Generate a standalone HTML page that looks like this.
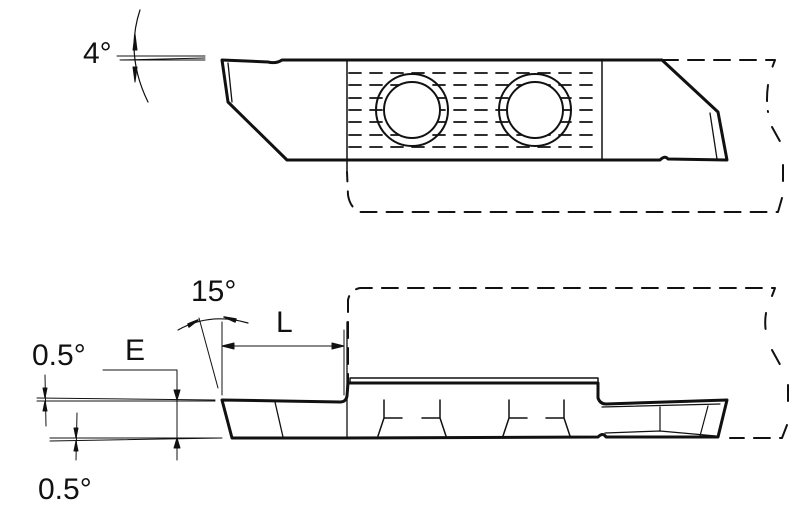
<!DOCTYPE html>
<html><head><meta charset="utf-8"><style>
html,body{margin:0;padding:0;background:#fff;width:800px;height:515px;overflow:hidden}
svg{display:block}
text{font-family:"Liberation Sans",sans-serif;fill:#111;stroke:none}
</style></head><body>
<svg width="800" height="515" viewBox="0 0 800 515" xmlns="http://www.w3.org/2000/svg">
<g fill="none" stroke="#111" stroke-linejoin="round" stroke-linecap="round">
<path d="M222,60 L268,62 Q276,64 282,60 L662,60 L718,112 L727,160 L668,159 Q665,155 660,160 L287,160 L228,102 Z" stroke-width="3"/>
<path d="M228,63 L232,102" stroke-width="1.3"/>
<path d="M710,113 L717,159" stroke-width="1.3"/>
<path d="M347,60 V172" stroke-width="1.5"/>
<path d="M602,60 V160" stroke-width="1.5"/>
<g stroke-width="1.8" stroke-dasharray="12,9">
<path d="M349,73 H600"/><path d="M349,85 H600"/><path d="M349,98 H600"/><path d="M349,110 H600"/><path d="M349,122 H600"/><path d="M349,135 H600"/><path d="M349,147 H600"/>
</g>
<circle cx="412" cy="110" r="36" stroke-width="2"/>
<circle cx="412" cy="110" r="28" stroke-width="2" fill="#fff"/>
<circle cx="535" cy="110" r="36" stroke-width="2"/>
<circle cx="535" cy="110" r="28" stroke-width="2" fill="#fff"/>
<g stroke-width="2" stroke-dasharray="16,10">
<path d="M662,60 H775 L772,68"/>
<path d="M768,85 Q766,100 768,112 M772,127 L782,145 M783,165 V185 M782,198 L778,212 H360 Q350,208 348,195 L347,172"/>
</g>
<path d="M120,60 L205,58 M120,60 L205,60 M117,56 H205" stroke-width="1"/>
<path d="M140,10 Q125,55 148,102" stroke-width="1.2"/>
<path d="M135,34 L137,50 L133,50 Z M135,82 L137,67 L133,67 Z" fill="#111" stroke-width="1"/>

<path d="M222,400 L340,402 Q346,402 347,396 L348,383 L598,383 L598,398 Q600,404 606,404 L727,400 L718,437 L606,437 Q603,432 598,437 L345,438 L232,438 Z" stroke-width="3"/>
<path d="M350,383 V378 H598 V383" stroke-width="1.5"/>
<path d="M602,407 L720,404 M605,433 L660,431 L716,436" stroke-width="1.2"/>
<path d="M660,407 V431 M708,406 L700,436" stroke-width="1.2"/>
<path d="M275,402 L283,437" stroke-width="1.3"/>
<path d="M347,322 V438" stroke-width="1.3"/>
<g stroke-width="1.5">
<path d="M384,400 V418 M384,418 H402 M384,418 L378,436"/>
<path d="M440,400 V418 M440,418 H422 M440,418 L446,436"/>
<path d="M509,400 V418 M509,418 H527 M509,418 L503,436"/>
<path d="M564,400 V418 M564,418 H546 M564,418 L570,436"/>
</g>
<g stroke-width="2" stroke-dasharray="16,10">
<path d="M348,390 V300 Q350,290 360,288 H775 L772,296"/>
<path d="M766,313 Q764,325 767,337 M772,350 L783,370 M788,385 V405 M787,425 L782,438 H730"/>
</g>
<path d="M222,395 V322 M344,330 V395 M222,346 H344" stroke-width="1"/>
<path d="M222,346 L234,343 V349 Z M344,346 L332,343 V349 Z" fill="#111" stroke-width="1"/>
<path d="M199,318 L218,388" stroke-width="1"/>
<path d="M178,330 Q210,312 248,323" stroke-width="1.2"/>
<path d="M198,320 L188,324 L189,327 Z M224,317 L236,319 L235,322 Z" fill="#111" stroke-width="1.5"/>
<path d="M103,370 H177 V460" stroke-width="1"/>
<path d="M177,400 L174,390 H180 Z M177,438 L174,448 H180 Z" fill="#111" stroke-width="1"/>
<path d="M37,398 L215,400 M37,401 L215,401 M50,438 L222,438 M50,441 L222,438" stroke-width="1"/>
<path d="M45,375 L46,426 M77,413 L76,460" stroke-width="1"/>
<path d="M45,398 L43,388 H47 Z M45,401 L43,411 H47 Z M76,438 L74,428 H78 Z M76,441 L74,451 H78 Z" fill="#111" stroke-width="1"/>
</g>
<text x="83" y="63" font-size="30">4°</text>
<text x="191" y="301" font-size="30">15°</text>
<text x="276" y="332" font-size="30">L</text>
<text x="125" y="360" font-size="30">E</text>
<text x="32" y="365" font-size="30">0.5°</text>
<text x="38" y="499" font-size="30">0.5°</text>
</svg>
</body></html>
